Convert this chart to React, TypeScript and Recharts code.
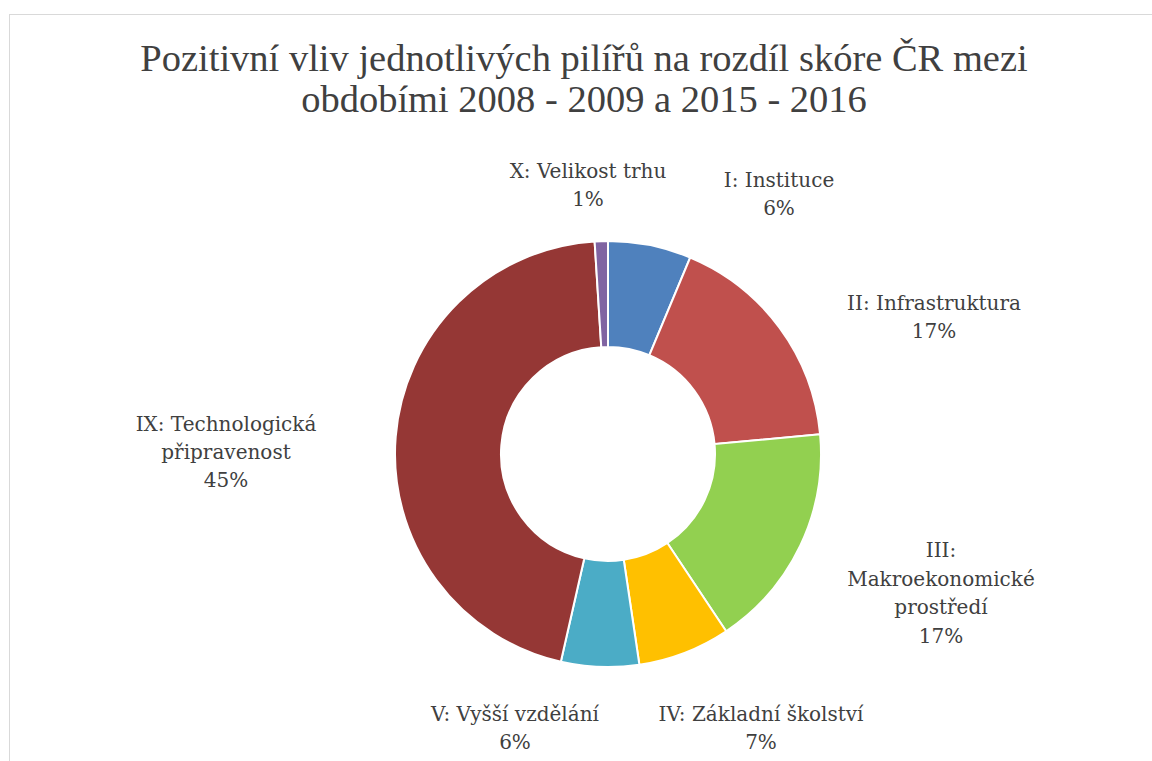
import React from "react";
import { PieChart, Pie, Cell } from "recharts";

const categories = [
  "I: Instituce",
  "II: Infrastruktura",
  "III: Makroekonomické prostředí",
  "IV: Základní školství",
  "V: Vyšší vzdělání",
  "IX: Technologická připravenost",
  "X: Velikost trhu",
];
const values = [6.3, 17.2, 17.1, 7.0, 5.9, 45.4, 1.0];
const labelLines = [
  ["I: Instituce"],
  ["II: Infrastruktura"],
  ["III:", "Makroekonomické", "prostředí"],
  ["IV: Základní školství"],
  ["V: Vyšší vzdělání"],
  ["IX: Technologická", "připravenost"],
  ["X: Velikost trhu"],
];
const colors = ["#4f81bd", "#c0504d", "#92d050", "#ffc000", "#4bacc6", "#953735", "#8064a2"];
const titleLines = [
  "Pozitivní vliv jednotlivých pilířů na rozdíl skóre ČR mezi",
  "obdobími 2008 - 2009 a 2015 - 2016",
];

// label block centre offsets relative to pie centre (layout only)
const labelOffsets = [
  [171, -260],
  [326, -137],
  [333, 139],
  [153, 274],
  [-93, 274],
  [-382, -2],
  [-20, -269],
];

const TITLE_FONT = "'Liberation Serif', serif";
const LABEL_FONT = "'DejaVu Serif', serif";
const LINE_H = 28.4;

const data = categories.map((name, i) => ({ name, value: values[i] }));

const renderLabel = (props: any) => {
  const { cx, cy, index, percent } = props;
  const lines = [...labelLines[index], `${Math.round(percent * 100)}%`];
  const [ox, oy] = labelOffsets[index];
  const x = cx + ox;
  const y0 = cy + oy - ((lines.length - 1) * LINE_H) / 2;
  return (
    <text
      key={`lbl-${index}`}
      x={x}
      y={y0}
      textAnchor="middle"
      dominantBaseline="central"
      fill="#404040"
      fontSize={20}
      fontFamily={LABEL_FONT}
    >
      {lines.map((l, k) => (
        <tspan key={k} x={x} y={y0 + k * LINE_H} dominantBaseline="central">
          {l}
        </tspan>
      ))}
    </text>
  );
};

export default function App() {
  return (
    <div
      style={{
        position: "absolute",
        left: 0,
        top: 0,
        width: 1152,
        height: 761,
        overflow: "hidden",
        background: "#fff",
      }}
    >
      <div
        style={{
          position: "absolute",
          left: 9,
          top: 14,
          width: 1250,
          height: 900,
          border: "1px solid #d9d9d9",
          boxSizing: "border-box",
        }}
      />
      <div style={{ position: "absolute", left: 0, top: 0 }}>
        <PieChart width={1152} height={761} margin={{ top: 0, right: 0, bottom: 0, left: 0 }}>
          <text
            x={584}
            y={58}
            textAnchor="middle"
            dominantBaseline="central"
            fill="#404040"
            fontSize={38.5}
            fontFamily={TITLE_FONT}
          >
            <tspan x={584} y={58} dominantBaseline="central">{titleLines[0]}</tspan>
            <tspan x={584} y={99} dominantBaseline="central">{titleLines[1]}</tspan>
          </text>
          <Pie
            data={data}
            dataKey="value"
            nameKey="name"
            cx={608}
            cy={454}
            innerRadius={107}
            outerRadius={213}
            startAngle={90}
            endAngle={-270}
            stroke="#ffffff"
            strokeWidth={2}
            label={renderLabel}
            labelLine={false}
            isAnimationActive={false}
          >
            {data.map((d, i) => (
              <Cell key={d.name} fill={colors[i]} />
            ))}
          </Pie>
        </PieChart>
      </div>
    </div>
  );
}
